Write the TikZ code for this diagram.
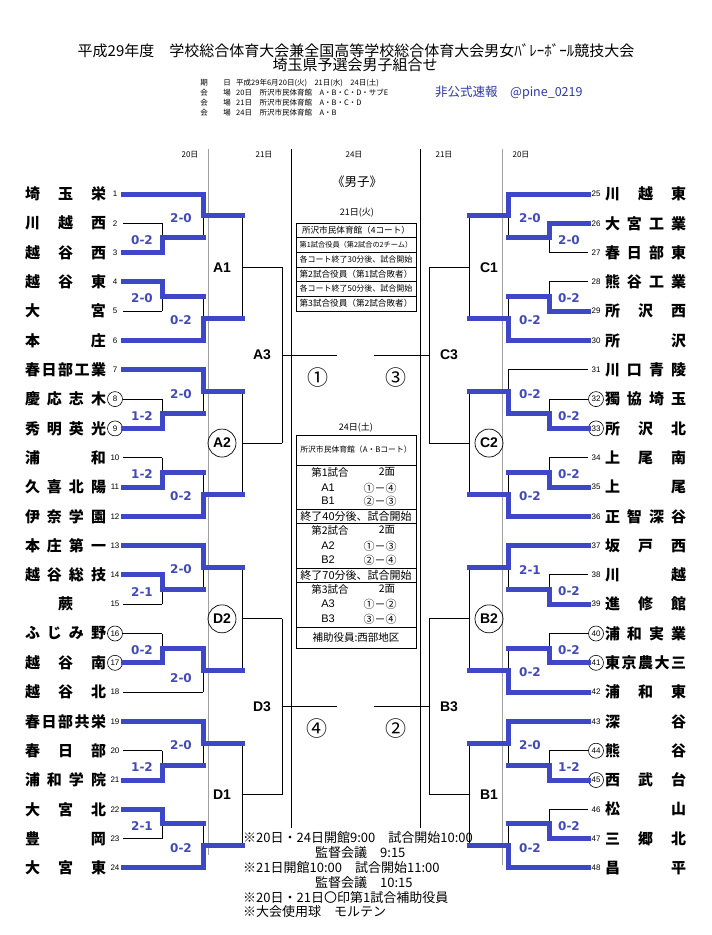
\documentclass[tikz,border=0pt]{standalone}
\usepackage{fontspec}
\setmainfont{Liberation Sans}
\newfontfamily\jp{Noto Sans CJK JP}
\newfontfamily\dv{DejaVu Sans}
\usetikzlibrary{calc}
\definecolor{winblue}{RGB}{62,72,198}
\definecolor{scoreblue}{RGB}{66,74,186}
\definecolor{noteblue}{RGB}{46,58,170}
\definecolor{colgray}{RGB}{160,160,160}
\newcommand\fs[1]{\fontsize{#1}{#1}\selectfont}

\newcommand\setside[1]{%
 \if#1L\def\xe{123}\def\xa{162}\def\xb{203}\def\xc{242}\def\xd{282}\def\xp{142}\def\xq{181}\def\xg{222}%
 \else\def\xe{588}\def\xa{549}\def\xb{508}\def\xc{469}\def\xd{429}\def\xp{569}\def\xq{530}\def\xg{489}\fi}

% #1 side, #2 group, #3 P1 winner row (1/2), #4 Q1 (0=row0, 1=P1 winner), #5 P2 winner row (3/4), #6 Q2 (0=P2 winner, 1=row5)
\newcommand\grp[6]{%
 \setside{#1}%
 \pgfmathsetmacro\yA{194+175.8*#2}%
 \pgfmathsetmacro\yB{\yA+29.3}%
 \pgfmathsetmacro\yC{\yA+58.6}%
 \pgfmathsetmacro\yD{\yA+87.9}%
 \pgfmathsetmacro\yE{\yA+117.2}%
 \pgfmathsetmacro\yF{\yA+146.5}%
 \pgfmathsetmacro\mA{(\yB+\yC)/2}%
 \pgfmathsetmacro\mB{(\yD+\yE)/2}%
 \pgfmathsetmacro\qA{(\yA+\mA)/2}%
 \pgfmathsetmacro\qB{(\mB+\yF)/2}%
 \pgfmathsetmacro\rr{(\qA+\qB)/2}%
 \coordinate (#1#2-e0) at (\xe,\yA);
 \coordinate (#1#2-e1) at (\xe,\yB);
 \coordinate (#1#2-e2) at (\xe,\yC);
 \coordinate (#1#2-e3) at (\xe,\yD);
 \coordinate (#1#2-e4) at (\xe,\yE);
 \coordinate (#1#2-e5) at (\xe,\yF);
 \coordinate (#1#2-b0) at (\xb,\yA);
 \coordinate (#1#2-a1) at (\xa,\yB);
 \coordinate (#1#2-a2) at (\xa,\yC);
 \coordinate (#1#2-a3) at (\xa,\yD);
 \coordinate (#1#2-a4) at (\xa,\yE);
 \coordinate (#1#2-b5) at (\xb,\yF);
 \coordinate (#1#2-am1) at (\xa,\mA);
 \coordinate (#1#2-bm1) at (\xb,\mA);
 \coordinate (#1#2-am2) at (\xa,\mB);
 \coordinate (#1#2-bm2) at (\xb,\mB);
 \coordinate (#1#2-bq1) at (\xb,\qA);
 \coordinate (#1#2-cq1) at (\xc,\qA);
 \coordinate (#1#2-bq2) at (\xb,\qB);
 \coordinate (#1#2-cq2) at (\xc,\qB);
 \coordinate (#1#2-cr) at (\xc,\rr);
 \coordinate (#1#2-dr) at (\xd,\rr);
 \draw[thinln] (#1#2-e0)--(#1#2-b0) (#1#2-e1)--(#1#2-a1) (#1#2-e2)--(#1#2-a2)
   (#1#2-e3)--(#1#2-a3) (#1#2-e4)--(#1#2-a4) (#1#2-e5)--(#1#2-b5)
   (#1#2-a1)--(#1#2-a2) (#1#2-am1)--(#1#2-bm1) (#1#2-a3)--(#1#2-a4) (#1#2-am2)--(#1#2-bm2)
   (#1#2-b0)--(#1#2-bm1) (#1#2-bq1)--(#1#2-cq1) (#1#2-bm2)--(#1#2-b5) (#1#2-bq2)--(#1#2-cq2)
   (#1#2-cq1)--(#1#2-cq2) (#1#2-cr)--(#1#2-dr);
 \ifnum#4=1
  \draw[win] (#1#2-e#3)--(#1#2-a#3)--(#1#2-am1)--(#1#2-bm1)--(#1#2-bq1)--(#1#2-cq1);
 \else
  \draw[win] (#1#2-e#3)--(#1#2-a#3)--(#1#2-am1)--(#1#2-bm1);
  \draw[win] (#1#2-e0)--(#1#2-b0)--(#1#2-bq1)--(#1#2-cq1);
 \fi
 \ifnum#6=0
  \draw[win] (#1#2-e#5)--(#1#2-a#5)--(#1#2-am2)--(#1#2-bm2)--(#1#2-bq2)--(#1#2-cq2);
 \else
  \draw[win] (#1#2-e#5)--(#1#2-a#5)--(#1#2-am2)--(#1#2-bm2);
  \draw[win] (#1#2-e5)--(#1#2-b5)--(#1#2-bq2)--(#1#2-cq2);
 \fi
}

% #1 prefix, #2 P1, #3 Q1, #4 P2, #5 Q2, #6 Q2 offset, #7 label style, #8 label
\newcommand\scores[8]{%
 \node[score] (#1-s1) at (\xp,\mA+2) {#2};
 \node[score] (#1-s2) at (\xq,\qA+2) {#3};
 \node[score] (#1-s3) at (\xp,\mB+2) {#4};
 \node[score] (#1-s4) at (\xq,\qB+#6) {#5};
 \node[#7] (#1-g) at (\xg,\rr) {#8};
}

\newcommand\team[3]{%
 \pgfmathsetmacro\ty{194+29.3*mod(#1-1,24)}%
 \ifnum#1<25 \def\tx{65.5}\def\nx{115}\else\def\tx{645.5}\def\nx{596}\fi
 \node[tname] (t#1) at (\tx,\ty) {\hbox to 81pt{#2}};
 \ifnum#3=1 \node[tcirc] (n#1) at (\nx,\ty) {#1};\else\node[tnum] (n#1) at (\nx,\ty) {#1};\fi
}

\tikzset{
 thinln/.style={black,line width=0.9pt},
 colln/.style={colgray,line width=0.9pt},
 boxln/.style={black,line width=0.8pt},
 win/.style={winblue,line width=5pt,line cap=rect,line join=miter},
 tname/.style={font=\jp\bfseries\fs{15},inner sep=0pt},
 tnum/.style={font=\fs{8},inner sep=0pt},
 tcirc/.style={circle,draw,line width=0.6pt,minimum size=15pt,inner sep=0pt,font=\fs{8}},
 score/.style={font=\dv\bfseries\fs{12},text=scoreblue,inner sep=0pt},
 glbl/.style={font=\bfseries\fs{14},inner sep=0pt},
 gcirc/.style={glbl,circle,draw,line width=0.7pt,minimum size=28pt},
 cnum/.style={font=\jp\fs{21},inner sep=0pt},
 colh/.style={font=\jp\fs{8},inner sep=0pt},
 info/.style={font=\jp\fs{7.5},inner sep=0pt},
 note/.style={font=\jp\fs{13},inner sep=0pt,anchor=west},
 tx/.style={font=\jp\fs{#1},inner sep=0pt},
 sx/.style={font=\fs{#1},inner sep=0pt},
}

\begin{document}
\begin{tikzpicture}[x=1pt,y=-1pt]
\useasboundingbox (0,0) rectangle (712,935);
\fill[white] (0,0) rectangle (712,935);

% header
\node[tx=15] (title1) at (356,51) {平成29年度　学校総合体育大会兼全国高等学校総合体育大会男女ﾊﾞﾚｰﾎﾞｰﾙ競技大会};
\node[tx=15] (title2) at (355,65) {埼玉県予選会男子組合せ};
\node[info] (k1a) at (204,83) {期};
\node[info] (k1b) at (227,83) {日};
\node[info,anchor=west] (k1c) at (236,83) {平成29年6月20日(火)　21日(水)　24日(土)};
\node[info] (k2a) at (204,93) {会};
\node[info] (k2b) at (227,93) {場};
\node[info,anchor=west] (k2c) at (236,93) {20日　所沢市民体育館　A・B・C・D・サブE};
\node[info] (k3a) at (204,103) {会};
\node[info] (k3b) at (227,103) {場};
\node[info,anchor=west] (k3c) at (236,103) {21日　所沢市民体育館　A・B・C・D};
\node[info] (k4a) at (204,113) {会};
\node[info] (k4b) at (227,113) {場};
\node[info,anchor=west] (k4c) at (236,113) {24日　所沢市民体育館　A・B};
\node[tx=12.5,anchor=west,text=noteblue] (unoff) at (435,93) {非公式速報　@pine\_0219};

\node[colh] (h1) at (190,155) {20日};
\node[colh] (h2) at (264,155) {21日};
\node[colh] (h3) at (354,155) {24日};
\node[colh] (h4) at (444,155) {21日};
\node[colh] (h5) at (521,155) {20日};

% column lines
\draw[colln] (208.5,149) -- (208.5,855);
\draw[colln] (502.5,149) -- (502.5,865);
\draw[thinln] (291,149) -- (291,828);
\draw[thinln] (420,149) -- (420,828);

% teams
\team{1}{埼\hfill 玉\hfill 栄}{0}
\team{2}{川\hfill 越\hfill 西}{0}
\team{3}{越\hfill 谷\hfill 西}{0}
\team{4}{越\hfill 谷\hfill 東}{0}
\team{5}{大\hfill 宮}{0}
\team{6}{本\hfill 庄}{0}
\team{7}{春\hfill 日\hfill 部\hfill 工\hfill 業}{0}
\team{8}{慶\hfill 応\hfill 志\hfill 木}{1}
\team{9}{秀\hfill 明\hfill 英\hfill 光}{1}
\team{10}{浦\hfill 和}{0}
\team{11}{久\hfill 喜\hfill 北\hfill 陽}{0}
\team{12}{伊\hfill 奈\hfill 学\hfill 園}{0}
\team{13}{本\hfill 庄\hfill 第\hfill 一}{0}
\team{14}{越\hfill 谷\hfill 総\hfill 技}{0}
\team{15}{\hfill 蕨\hfill}{0}
\team{16}{ふ\hfill じ\hfill み\hfill 野}{1}
\team{17}{越\hfill 谷\hfill 南}{1}
\team{18}{越\hfill 谷\hfill 北}{0}
\team{19}{春\hfill 日\hfill 部\hfill 共\hfill 栄}{0}
\team{20}{春\hfill 日\hfill 部}{0}
\team{21}{浦\hfill 和\hfill 学\hfill 院}{0}
\team{22}{大\hfill 宮\hfill 北}{0}
\team{23}{豊\hfill 岡}{0}
\team{24}{大\hfill 宮\hfill 東}{0}
\team{25}{川\hfill 越\hfill 東}{0}
\team{26}{大\hfill 宮\hfill 工\hfill 業}{0}
\team{27}{春\hfill 日\hfill 部\hfill 東}{0}
\team{28}{熊\hfill 谷\hfill 工\hfill 業}{0}
\team{29}{所\hfill 沢\hfill 西}{0}
\team{30}{所\hfill 沢}{0}
\team{31}{川\hfill 口\hfill 青\hfill 陵}{0}
\team{32}{獨\hfill 協\hfill 埼\hfill 玉}{1}
\team{33}{所\hfill 沢\hfill 北}{1}
\team{34}{上\hfill 尾\hfill 南}{0}
\team{35}{上\hfill 尾}{0}
\team{36}{正\hfill 智\hfill 深\hfill 谷}{0}
\team{37}{坂\hfill 戸\hfill 西}{0}
\team{38}{川\hfill 越}{0}
\team{39}{進\hfill 修\hfill 館}{0}
\team{40}{浦\hfill 和\hfill 実\hfill 業}{1}
\team{41}{東\hfill 京\hfill 農\hfill 大\hfill 三}{1}
\team{42}{浦\hfill 和\hfill 東}{0}
\team{43}{深\hfill 谷}{0}
\team{44}{熊\hfill 谷}{1}
\team{45}{西\hfill 武\hfill 台}{1}
\team{46}{松\hfill 山}{0}
\team{47}{三\hfill 郷\hfill 北}{0}
\team{48}{昌\hfill 平}{0}

% brackets
\grp{L}{0}{2}{0}{3}{1} \scores{L0}{0-2}{2-0}{2-0}{0-2}{2}{glbl}{A1}
\grp{L}{1}{2}{0}{4}{1} \scores{L1}{1-2}{2-0}{1-2}{0-2}{2}{gcirc}{A2}
\grp{L}{2}{1}{0}{4}{0} \scores{L2}{2-1}{2-0}{0-2}{2-0}{8}{gcirc}{D2}
\grp{L}{3}{2}{0}{3}{1} \scores{L3}{1-2}{2-0}{2-1}{0-2}{2}{glbl}{D1}
\grp{R}{0}{1}{0}{4}{1} \scores{R0}{2-0}{2-0}{0-2}{0-2}{2}{glbl}{C1}
\grp{R}{1}{2}{1}{4}{1} \scores{R1}{0-2}{0-2}{0-2}{0-2}{2}{gcirc}{C2}
\grp{R}{2}{2}{0}{4}{1} \scores{R2}{0-2}{2-1}{0-2}{0-2}{2}{gcirc}{B2}
\grp{R}{3}{2}{0}{4}{1} \scores{R3}{1-2}{2-0}{0-2}{0-2}{2}{glbl}{B1}

% semifinal connectors
\draw[thinln] (L0-dr) -- (L1-dr);
\coordinate (A3m) at ($(L0-dr)!0.5!(L1-dr)$);
\coordinate (A3e) at ($(A3m)+(55,0)$);
\draw[thinln] (A3m) -- (A3e);
\node[glbl] (A3) at ($(A3m)+(-20,0)$) {A3};
\draw[thinln] (L2-dr) -- (L3-dr);
\coordinate (D3m) at ($(L2-dr)!0.5!(L3-dr)$);
\coordinate (D3e) at ($(D3m)+(55,0)$);
\draw[thinln] (D3m) -- (D3e);
\node[glbl] (D3) at ($(D3m)+(-20,0)$) {D3};
\draw[thinln] (R0-dr) -- (R1-dr);
\coordinate (C3m) at ($(R0-dr)!0.5!(R1-dr)$);
\coordinate (C3e) at ($(C3m)+(-55,0)$);
\draw[thinln] (C3m) -- (C3e);
\node[glbl] (C3) at ($(C3m)+(20,0)$) {C3};
\draw[thinln] (R2-dr) -- (R3-dr);
\coordinate (B3m) at ($(R2-dr)!0.5!(R3-dr)$);
\coordinate (B3e) at ($(B3m)+(-55,0)$);
\draw[thinln] (B3m) -- (B3e);
\node[glbl] (B3) at ($(B3m)+(20,0)$) {B3};

\node[cnum] (k1) at (318,378) {①};
\node[cnum] (k3) at (396,378) {③};
\node[cnum] (k4) at (317,729) {④};
\node[cnum] (k2) at (396,729) {②};

% centre
\node[tx=12.5] (boys) at (357,182) {《男子》};
\node[tx=9] (d21) at (357,213) {21日(火)};
\draw[boxln] (296,223) rectangle (416,311);
\foreach \yy in {237,252,267,281,296} \draw[boxln] (296,\yy) -- (416,\yy);
\node[tx=8.6] (p1) at (356,230) {所沢市民体育館（4コート）};
\node[tx=7.2] (p2) at (356,244.5) {第1試合役員（第2試合の2チーム）};
\node[tx=8] (p3) at (356,259.5) {各コート終了30分後、試合開始};
\node[tx=8.6] (p4) at (356,274) {第2試合役員（第1試合敗者）};
\node[tx=8] (p5) at (356,288.5) {各コート終了50分後、試合開始};
\node[tx=8.6] (p6) at (356,303.5) {第3試合役員（第2試合敗者）};

\node[tx=9] (d24) at (356,428) {24日(土)};
\draw[boxln] (296,435) rectangle (416,648);
\foreach \yy in {465,509,523,568,582,627} \draw[boxln] (296,\yy) -- (416,\yy);
\node[tx=7.8] (q0) at (356,450) {所沢市民体育館（A・Bコート）};
\node[tx=10.5] (q1a) at (330,472) {第1試合};
\node[tx=10.5] (q1b) at (387,472) {2面};
\node[sx=11] (q1c) at (328,488) {A1};
\node[tx=11] (q1d) at (380,488) {①－④};
\node[sx=11] (q1e) at (328,501) {B1};
\node[tx=11] (q1f) at (380,501) {②－③};
\node[tx=11] (q1g) at (356,516) {終了40分後、試合開始};
\node[tx=10.5] (q2a) at (330,530) {第2試合};
\node[tx=10.5] (q2b) at (387,530) {2面};
\node[sx=11] (q2c) at (328,546) {A2};
\node[tx=11] (q2d) at (380,546) {①－③};
\node[sx=11] (q2e) at (328,560) {B2};
\node[tx=11] (q2f) at (380,560) {②－④};
\node[tx=11] (q2g) at (356,575) {終了70分後、試合開始};
\node[tx=10.5] (q3a) at (330,589) {第3試合};
\node[tx=10.5] (q3b) at (387,589) {2面};
\node[sx=11] (q3c) at (328,604) {A3};
\node[tx=11] (q3d) at (380,604) {①－②};
\node[sx=11] (q3e) at (328,619) {B3};
\node[tx=11] (q3f) at (380,619) {③－④};
\node[tx=10.5] (q4) at (356,638) {補助役員:西部地区};

% notes
\node[note] (n01) at (243,838) {※20日・24日開館9:00　試合開始10:00};
\node[note] (n02) at (315,853) {監督会議　9:15};
\node[note] (n03) at (243,868) {※21日開館10:00　試合開始11:00};
\node[note] (n04) at (315,883) {監督会議　10:15};
\node[note] (n05) at (243,898) {※20日・21日〇印第1試合補助役員};
\node[note] (n06) at (243,912) {※大会使用球　モルテン};
\end{tikzpicture}
\end{document}
